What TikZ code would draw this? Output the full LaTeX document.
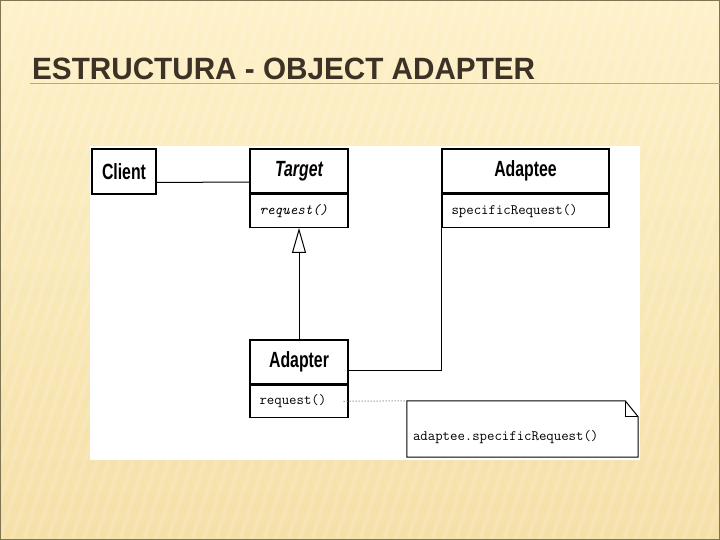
\documentclass[tikz,border=0pt]{standalone}
\usepackage{fontspec}
\setmainfont{Liberation Sans}
\usetikzlibrary{arrows.meta}
\definecolor{bgtop}{HTML}{FEF1C9}
\definecolor{bgbot}{HTML}{F5E0A8}
\definecolor{frameol}{HTML}{7F7450}
\definecolor{titlecol}{HTML}{3C3226}
\definecolor{lineor}{HTML}{E0A040}
\tikzset{
  hdr/.style={draw, line width=1.3pt, fill=white, inner sep=0pt, font=\fontsize{22}{22}\selectfont\bfseries},
  comp/.style={draw, line width=1.3pt, fill=white, inner sep=0pt},
  optxt/.style={anchor=west, inner sep=0pt, font=\ttfamily\fontsize{14.4}{15}\selectfont},
  conn/.style={line width=1pt}
}
\newcommand{\nar}[1]{\scalebox{0.72}[1]{#1}}
\begin{document}
\begin{tikzpicture}[x=1pt,y=-1pt]
\useasboundingbox (0,0) rectangle (720,540);
\shade[top color=bgtop, bottom color=bgbot] (0,0) rectangle (720,540);
\begin{scope}
\clip (0,0) rectangle (720,540);
\foreach \i in {-20,...,70} {
  \draw[white, opacity=0.13, line width=4pt] (\i*12,540) -- (\i*12+170,0);
}
\end{scope}
\draw[frameol, line width=1.2pt] (0.6,0.6) rectangle (719.4,539.4);
% title
\node[anchor=base west, inner sep=0pt, text=titlecol, font=\fontsize{30}{30}\selectfont\bfseries] (title) at (32,80) {\resizebox{503pt}{21.5pt}{ESTRUCTURA - OBJECT ADAPTER}};
\draw[lineor, line width=0.9pt] (30,83.5) -- (720,83.5);
% white panel
\fill[white] (90,146) rectangle (640,460);
% classes
\node[hdr, minimum width=64pt, minimum height=45pt] (client) at (124,171.5) {\nar{Client}};
\node[hdr, minimum width=98pt, minimum height=44pt] (target) at (299,171) {\nar{\itshape Target}};
\node[comp, minimum width=98pt, minimum height=33pt, anchor=north] (targetop) at (target.south) {};
\node[optxt] (treq) at ([xshift=10pt]targetop.west) {\itshape request()};
\node[hdr, minimum width=167pt, minimum height=44pt] (adaptee) at (525.5,171) {\nar{Adaptee}};
\node[comp, minimum width=167pt, minimum height=33pt, anchor=north] (adapteeop) at (adaptee.south) {};
\node[optxt] (sreq) at ([xshift=10pt]adapteeop.west) {specificRequest()};
\node[hdr, minimum width=98pt, minimum height=44pt] (adapter) at (299,362) {\nar{Adapter}};
\node[comp, minimum width=98pt, minimum height=32pt, anchor=north] (adapterop) at (adapter.south) {};
\node[optxt] (areq) at ([xshift=10pt]adapterop.west) {request()};
% note
\node[inner sep=0pt, minimum width=231pt, minimum height=56pt] (note) at (522.5,429) {};
\draw[line width=1pt, fill=white] (note.north west) -- ([xshift=-13pt]note.north east) -- ([yshift=-16pt]note.north east) -- (note.south east) -- (note.south west) -- cycle;
\draw[line width=1pt] ([xshift=-13pt]note.north east) -- ([xshift=-13pt,yshift=-16pt]note.north east) -- ([yshift=-16pt]note.north east);
\node[optxt] (ntext) at ([xshift=6pt,yshift=-8pt]note.west) {adaptee.specificRequest()};
% connectors
\draw[conn] ([yshift=-11pt]client.east) -- ([yshift=-11pt]target.west);
\draw[conn, -{Triangle[open, length=25pt, width=14pt, line width=1pt]}] (adapter.north) -- (targetop.south);
\coordinate (bend) at (adapteeop.south west |- adapter.east);
\draw[conn] ([yshift=-8pt]adapter.east) -- ([yshift=-8pt]bend) -- (adapteeop.south west);
\draw[black!55, line width=1pt, dotted] ([xshift=-5pt]adapterop.east) -- (note.north west);
\end{tikzpicture}
\end{document}
